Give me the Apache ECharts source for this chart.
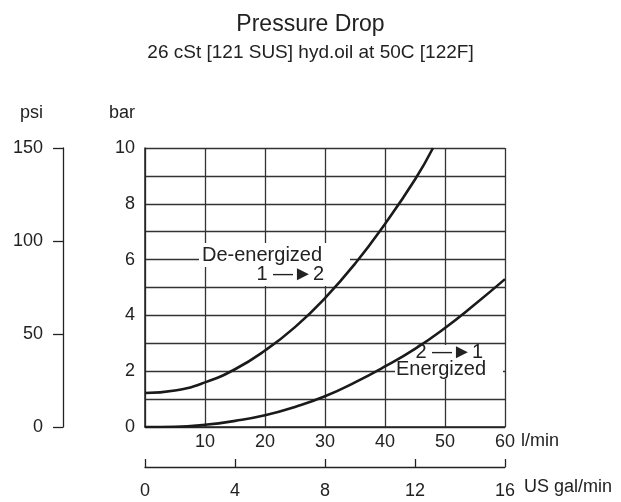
<!DOCTYPE html>
<html>
<head>
<meta charset="utf-8">
<script src="https://cdn.jsdelivr.net/npm/echarts@6/dist/echarts.min.js"></script>
<style>
  html, body { margin: 0; padding: 0; background: #fff; }
  #chart { width: 621px; height: 502px; }
</style>
</head>
<body>
<div id="chart"></div>
<script>
// flow in l/min, pressure drop in bar
var flowDe = [0, 5, 10, 15, 20, 25, 30, 35, 40, 45, 48];
var barDe = [1.22, 1.31, 1.6, 2.07, 2.74, 3.58, 4.62, 5.85, 7.28, 8.87, 10];
var flowEn = [0, 5, 10, 15, 20, 25, 30, 35, 40, 45, 50, 55, 60];
var barEn = [0, 0.01, 0.08, 0.22, 0.42, 0.72, 1.1, 1.6, 2.17, 2.8, 3.55, 4.4, 5.3];

var font = '"Liberation Sans Narrow", "Liberation Sans", Arial, sans-serif';
var ink = '#222';

var toPairs = function (xs, ys) {
    var out = [];
    xs.forEach(function (x, i) { out.push([x, ys[i]]); });
    return out;
};

var box = document.getElementById('chart');
var myChart = echarts.init(box);

var option = {
    animation: false,
    title: {
        text: 'Pressure Drop',
        subtext: '26 cSt [121 SUS] hyd.oil at 50C [122F]',
        left: 'center',
        top: 8,
        itemGap: 7,
        textStyle: { fontFamily: font, fontSize: 23, fontWeight: 'normal', color: ink },
        subtextStyle: { fontFamily: font, fontSize: 19, color: ink }
    },
    grid: { left: 145, right: 116, top: 148, bottom: 75 },
    xAxis: [
        {
            type: 'value', min: 0, max: 60, interval: 10,
            name: 'l/min', nameLocation: 'end', nameGap: 16,
            nameTextStyle: { fontFamily: font, fontSize: 18, color: ink, verticalAlign: 'top', padding: [5, 0, 0, 0] },
            axisLine: { lineStyle: { color: '#222', width: 1.5 } },
            axisTick: { show: false },
            axisLabel: { fontFamily: font, fontSize: 18, color: ink, margin: 6, showMinLabel: false },
            splitLine: { show: true, lineStyle: { color: '#333', width: 1.3 } }
        },
        {
            type: 'value', min: 0, max: 16, interval: 4,
            position: 'bottom', offset: 40,
            name: 'US gal/min', nameLocation: 'end', nameGap: 19,
            nameTextStyle: { fontFamily: font, fontSize: 18, color: ink, verticalAlign: 'top', padding: [11, 0, 0, 0] },
            axisLine: { onZero: false, lineStyle: { color: '#222', width: 1.3 } },
            axisTick: { show: true, inside: true, length: 8, lineStyle: { color: '#222', width: 1.3 } },
            axisLabel: { fontFamily: font, fontSize: 18, color: ink, margin: 15 },
            splitLine: { show: false }
        }
    ],
    yAxis: [
        {
            type: 'value', min: 0, max: 10, interval: 1,
            name: 'bar', nameLocation: 'end', nameGap: 26,
            nameTextStyle: { fontFamily: font, fontSize: 18, color: ink, align: 'right', padding: [0, 10, 0, 0] },
            axisLine: { show: true, lineStyle: { color: '#222', width: 1.5 } },
            axisTick: { show: false },
            axisLabel: {
                fontFamily: font, fontSize: 18, color: ink, margin: 10,
                formatter: function (v) { return v % 2 === 0 ? v : ''; }
            },
            splitLine: { show: true, lineStyle: { color: '#333', width: 1.3 } }
        },
        {
            type: 'value', min: 0, max: 150, interval: 50,
            position: 'left', offset: 82,
            name: 'psi', nameLocation: 'end', nameGap: 26,
            nameTextStyle: { fontFamily: font, fontSize: 18, color: ink, align: 'right', padding: [0, 20, 0, 0] },
            axisLine: { show: true, onZero: false, lineStyle: { color: '#222', width: 1.3 } },
            axisTick: { show: true, length: 10, lineStyle: { color: '#222', width: 1.3 } },
            axisLabel: { fontFamily: font, fontSize: 18, color: ink, margin: 20 },
            splitLine: { show: false }
        }
    ],
    series: [
        {
            name: 'De-energized',
            type: 'line', smooth: true, showSymbol: false,
            xAxisIndex: 0, yAxisIndex: 0, z: 5,
            lineStyle: { color: '#1a1a1a', width: 2.6 },
            data: toPairs(flowDe, barDe)
        },
        {
            name: 'Energized',
            type: 'line', smooth: true, showSymbol: false,
            xAxisIndex: 0, yAxisIndex: 0, z: 5,
            lineStyle: { color: '#1a1a1a', width: 2.6 },
            data: toPairs(flowEn, barEn)
        }
    ],
    graphic: [
        // white patches behind the curve labels
        { type: 'rect', z: 1, shape: { x: 199, y: 243, width: 151, height: 24 }, style: { fill: '#fff' } },
        { type: 'rect', z: 1, shape: { x: 262, y: 266, width: 84, height: 20 }, style: { fill: '#fff' } },
        { type: 'rect', z: 1, shape: { x: 395, y: 345, width: 108, height: 34 }, style: { fill: '#fff' } },
        {
            type: 'text', left: 202, top: 245, z: 10,
            style: { text: 'De-energized', font: '20px ' + font, fill: ink }
        },
        {
            type: 'text', x: 324, y: 264, z: 10,
            style: { text: '1 \u2014\u25BA2', font: '20px ' + font, fill: ink, align: 'right' }
        },
        {
            type: 'text', x: 483, y: 342, z: 10,
            style: { text: '2 \u2014\u25BA1', font: '20px ' + font, fill: ink, align: 'right' }
        },
        {
            type: 'text', left: 396, top: 359, z: 10,
            style: { text: 'Energized', font: '20px ' + font, fill: ink }
        }
    ]
};

myChart.setOption(option);
</script>
</body>
</html>
